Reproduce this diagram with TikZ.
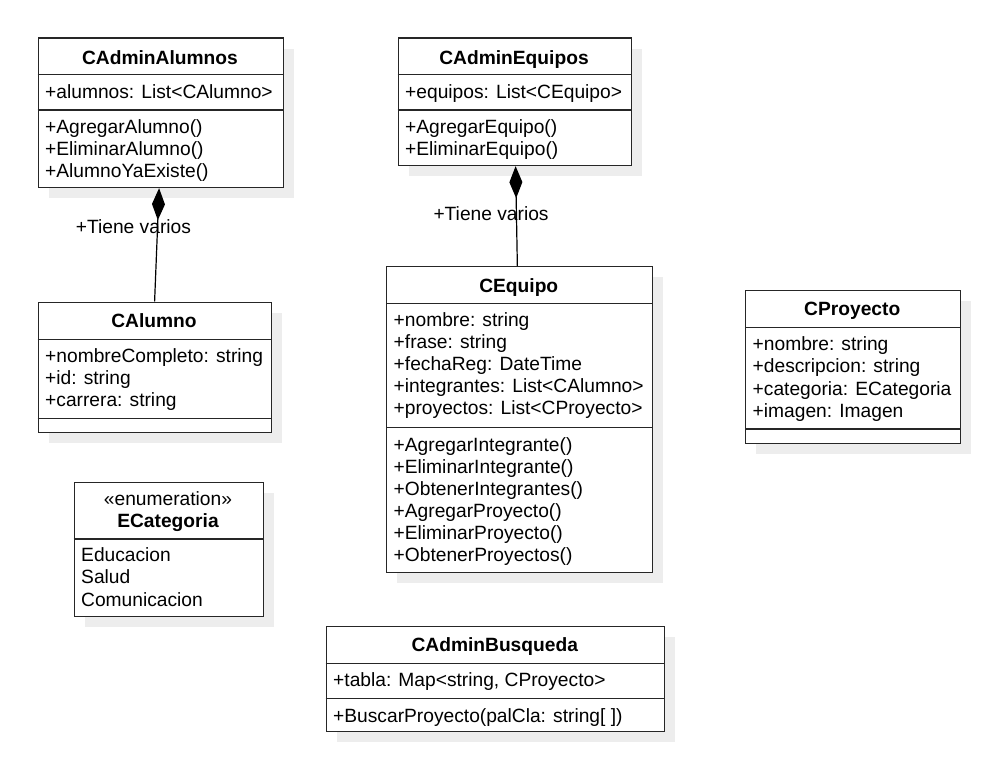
\documentclass[tikz,border=0pt]{standalone}
\usepackage{fontspec}
\setmainfont{Liberation Sans}
\usetikzlibrary{arrows.meta,shadows,calc}

\begin{document}
\begin{tikzpicture}[x=1pt,y=-1pt,
  classbox/.style={draw=black!85, fill=white, line width=1.2pt, inner sep=0pt,
    anchor=north west,
    drop shadow={shadow xshift=10.5pt, shadow yshift=-10.5pt, fill=black!7, opacity=1}},
  sepline/.style={draw=black!85, line width=1.2pt},
  txt/.style={anchor=base west, inner sep=0pt, font=\fontsize{19.2}{22}\selectfont},
  ttl/.style={anchor=base, inner sep=0pt, font=\fontsize{19.2}{22}\selectfont\bfseries},
  stereo/.style={anchor=base, inner sep=0pt, font=\fontsize{19.2}{22}\selectfont},
  comp/.style={line width=1.2pt, draw=black,
    -{Diamond[length=32pt,width=13pt,fill=black]}},
]
\fill[white] (0,0) rectangle (996,768);
\useasboundingbox (0,0) rectangle (996,768);

% ---------- CAdminAlumnos ----------
\node[classbox, minimum width=245pt, minimum height=149.5pt] (aa) at (37.5,37.5) {};
\draw[sepline] ($(aa.north west)+(0,37)$) -- ($(aa.north east)+(0,37)$);
\draw[sepline] ($(aa.north west)+(0,72.5)$) -- ($(aa.north east)+(0,72.5)$);
\node[ttl] (aa-t) at (160,64.5) {CAdminAlumnos};
\node[txt] (aa-a1) at (45,98.5) {+alumnos: List<CAlumno>};
\node[txt] (aa-m1) at (45,133.5) {+AgregarAlumno()};
\node[txt] (aa-m2) at (45,155.5) {+EliminarAlumno()};
\node[txt] (aa-m3) at (45,177.5) {+AlumnoYaExiste()};

% ---------- CAdminEquipos ----------
\node[classbox, minimum width=233pt, minimum height=127.5pt] (ae) at (397.5,37.5) {};
\draw[sepline] ($(ae.north west)+(0,37)$) -- ($(ae.north east)+(0,37)$);
\draw[sepline] ($(ae.north west)+(0,72.5)$) -- ($(ae.north east)+(0,72.5)$);
\node[ttl] (ae-t) at (514,64.5) {CAdminEquipos};
\node[txt] (ae-a1) at (405,98.5) {+equipos: List<CEquipo>};
\node[txt] (ae-m1) at (405,133.5) {+AgregarEquipo()};
\node[txt] (ae-m2) at (405,155.5) {+EliminarEquipo()};

% ---------- CAlumno ----------
\node[classbox, minimum width=233pt, minimum height=130.5pt] (al) at (37.5,301.5) {};
\draw[sepline] ($(al.north west)+(0,38)$) -- ($(al.north east)+(0,38)$);
\draw[sepline] ($(al.north west)+(0,117)$) -- ($(al.north east)+(0,117)$);
\node[ttl] (al-t) at (154,327.5) {CAlumno};
\node[txt] (al-a1) at (45,362) {+nombreCompleto: string};
\node[txt] (al-a2) at (45,384) {+id: string};
\node[txt] (al-a3) at (45,406) {+carrera: string};

% ---------- CEquipo ----------
\node[classbox, minimum width=265.5pt, minimum height=305.5pt] (eq) at (386,266) {};
\draw[sepline] ($(eq.north west)+(0,37.5)$) -- ($(eq.north east)+(0,37.5)$);
\draw[sepline] ($(eq.north west)+(0,161.5)$) -- ($(eq.north east)+(0,161.5)$);
\node[ttl] (eq-t) at (518.75,292) {CEquipo};
\node[txt] (eq-a1) at (393.5,326.7) {+nombre: string};
\node[txt] (eq-a2) at (393.5,348.7) {+frase: string};
\node[txt] (eq-a3) at (393.5,370.7) {+fechaReg: DateTime};
\node[txt] (eq-a4) at (393.5,392.7) {+integrantes: List<CAlumno>};
\node[txt] (eq-a5) at (393.5,414.7) {+proyectos: List<CProyecto>};
\node[txt] (eq-m1) at (393.5,451.5) {+AgregarIntegrante()};
\node[txt] (eq-m2) at (393.5,473.5) {+EliminarIntegrante()};
\node[txt] (eq-m3) at (393.5,495.5) {+ObtenerIntegrantes()};
\node[txt] (eq-m4) at (393.5,517.5) {+AgregarProyecto()};
\node[txt] (eq-m5) at (393.5,539.5) {+EliminarProyecto()};
\node[txt] (eq-m6) at (393.5,561.5) {+ObtenerProyectos()};

% ---------- CProyecto ----------
\node[classbox, minimum width=214.5pt, minimum height=152.5pt] (cp) at (745,290) {};
\draw[sepline] ($(cp.north west)+(0,37.5)$) -- ($(cp.north east)+(0,37.5)$);
\draw[sepline] ($(cp.north west)+(0,139)$) -- ($(cp.north east)+(0,139)$);
\node[ttl] (cp-t) at (852.25,315.5) {CProyecto};
\node[txt] (cp-a1) at (752.5,350.5) {+nombre: string};
\node[txt] (cp-a2) at (752.5,372.8) {+descripcion: string};
\node[txt] (cp-a3) at (752.5,395.1) {+categoria: ECategoria};
\node[txt] (cp-a4) at (752.5,417.4) {+imagen: Imagen};

% ---------- ECategoria (enumeration) ----------
\node[classbox, minimum width=189pt, minimum height=134.5pt] (ec) at (73.5,481.5) {};
\draw[sepline] ($(ec.north west)+(0,57.5)$) -- ($(ec.north east)+(0,57.5)$);
\node[stereo] (ec-s) at (168,505) {«enumeration»};
\node[ttl] (ec-t) at (168,527.5) {ECategoria};
\node[txt] (ec-v1) at (81,561.5) {Educacion};
\node[txt] (ec-v2) at (81,583.8) {Salud};
\node[txt] (ec-v3) at (81,606.1) {Comunicacion};

% ---------- CAdminBusqueda ----------
\node[classbox, minimum width=338.5pt, minimum height=104.5pt] (ab) at (325.5,626) {};
\draw[sepline] ($(ab.north west)+(0,37.5)$) -- ($(ab.north east)+(0,37.5)$);
\draw[sepline] ($(ab.north west)+(0,72.5)$) -- ($(ab.north east)+(0,72.5)$);
\node[ttl] (ab-t) at (494.75,651.5) {CAdminBusqueda};
\node[txt] (ab-a1) at (333,686.5) {+tabla: Map<string, CProyecto>};
\node[txt] (ab-m1) at (333,722.5) {+BuscarProyecto(palCla: string[ ])};

% ---------- composition connectors ----------
\draw[comp] (al.north) -- ($(aa.south)+(-1.5,0)$);
\node[txt] (lbl-al) at (75.7,233.3) {+Tiene varios};

\draw[comp] ($(eq.north)+(-2,0)$) -- ($(ae.south)+(1,0)$);
\node[txt] (lbl-eq) at (433.3,220) {+Tiene varios};

\end{tikzpicture}
\end{document}
